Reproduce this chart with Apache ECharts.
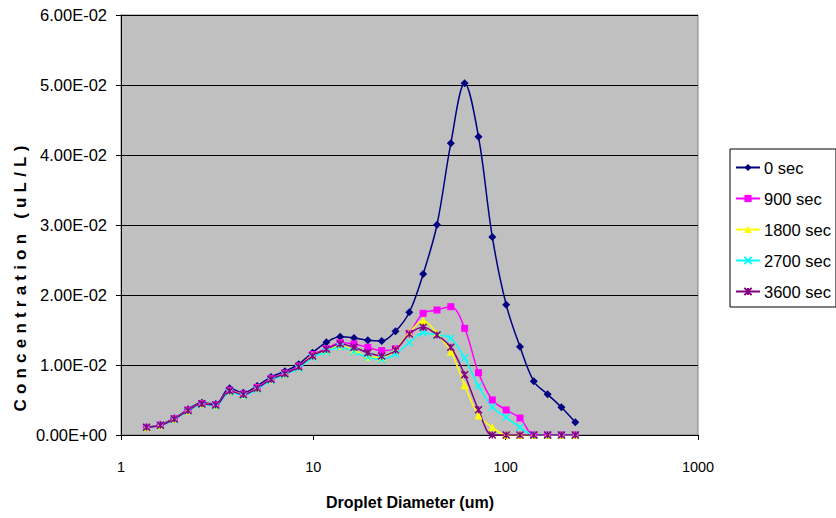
<!DOCTYPE html>
<html>
<head>
<meta charset="utf-8">
<script src="https://cdn.jsdelivr.net/npm/echarts@6/dist/echarts.min.js"></script>
<style>
html,body{margin:0;padding:0;background:#fff;}
#chart{width:836px;height:518px;}
</style>
</head>
<body>
<div id="chart"></div>
<script>
// Droplet diameter bins (um)
const sizes = [1.358,1.602,1.891,2.232,2.633,3.108,3.667,4.327,5.107,6.026,7.111,8.392,9.903,11.69,13.79,16.27,19.20,22.66,26.74,31.56,37.24,43.95,51.86,61.20,72.22,85.22,100.6,118.7,140.1,165.3,195.0,230.2];

const seriesNames = ['0 sec','900 sec','1800 sec','2700 sec','3600 sec'];

const sec0 = [0.00110,0.00147,0.00239,0.00367,0.00461,0.00443,0.00667,0.00603,0.00700,0.00830,0.00910,0.01012,0.01176,0.01324,0.01404,0.01386,0.01353,0.01343,0.01481,0.01753,0.02300,0.03004,0.04167,0.05024,0.04261,0.02829,0.01862,0.01261,0.00767,0.00581,0.00396,0.00181];
const sec900 = [0.00110,0.00140,0.00232,0.00357,0.00450,0.00430,0.00640,0.00585,0.00680,0.00805,0.00885,0.00985,0.01150,0.01233,0.01319,0.01300,0.01253,0.01205,0.01233,0.01453,0.01738,0.01786,0.01833,0.01524,0.00890,0.00500,0.00357,0.00243,0,0,0,0];
const sec1800 = [0.00110,0.00138,0.00228,0.00350,0.00445,0.00425,0.00630,0.00580,0.00670,0.00795,0.00875,0.00975,0.01140,0.01214,0.01271,0.01214,0.01119,0.01110,0.01224,0.01462,0.01633,0.01452,0.01190,0.00710,0.00280,0.00110,0,0,0,0,0,0];
const sec2700 = [0.00110,0.00135,0.00222,0.00342,0.00435,0.00415,0.00615,0.00565,0.00655,0.00780,0.00860,0.00955,0.01110,0.01190,0.01262,0.01190,0.01110,0.01081,0.01157,0.01319,0.01462,0.01429,0.01381,0.01100,0.00700,0.00400,0.00253,0.00110,0,0,0,0];
const sec3600 = [0.00110,0.00138,0.00228,0.00350,0.00445,0.00428,0.00630,0.00578,0.00668,0.00795,0.00875,0.00975,0.01130,0.01224,0.01300,0.01253,0.01176,0.01129,0.01214,0.01443,0.01538,0.01429,0.01253,0.00860,0.00360,0,0,0,0,0,0,0];

const xTicks = [1,10,100,1000];
const yTicks = [0,0.01,0.02,0.03,0.04,0.05,0.06];

const allValues = [sec0,sec900,sec1800,sec2700,sec3600];
const colors = ['#000080','#FF00FF','#FFFF00','#00FFFF','#800080'];
const symbols = ['diamond','rect','triangle','path://M0,0L10,10M10,0L0,10','path://M0,0L10,10M10,0L0,10M5,0L5,10'];
const symbolSizes = [8,7,8,7,7];

function fmtY(v){
  if (Math.abs(v) < 1e-12) return '0.00E+00';
  const parts = v.toExponential(2).split('e');
  const e = parseInt(parts[1],10);
  return parts[0] + 'E' + (e<0?'-':'+') + String(Math.abs(e)).padStart(2,'0');
}

const series = allValues.map((vals,k)=>({
  name: seriesNames[k],
  type: 'line',
  data: sizes.map((x,i)=>[x, vals[i]]),
  smooth: 0.35,
  symbol: symbols[k],
  symbolSize: symbolSizes[k],
  showSymbol: true,
  lineStyle: {color: colors[k], width: 1.5},
  itemStyle: {color: colors[k], borderColor: colors[k], borderWidth: k>=3 ? 1.5 : 0},
  emphasis: {disabled: true},
  animation: false
}));

const chart = echarts.init(document.getElementById('chart'), null, {renderer:'svg'});
chart.setOption({
  animation: false,
  backgroundColor: '#fff',
  textStyle: {fontFamily: '"Liberation Sans", Arial, sans-serif'},
  grid: {left:121, right:138, top:15, bottom:83, show:true, backgroundColor:'#C0C0C0', borderColor:'#808080', borderWidth:1},
  xAxis: {
    type: 'log', logBase: 10, min: xTicks[0], max: xTicks[xTicks.length-1],
    axisLine: {show:true, lineStyle:{color:'#000', width:1}},
    axisTick: {show:true, inside:false, length:5, lineStyle:{color:'#000'}},
    minorTick: {show:false},
    splitLine: {show:false},
    axisLabel: {color:'#000', fontSize:14.5, margin:24, fontFamily:'"Liberation Sans", Arial, sans-serif',
      formatter: v => String(Math.round(v))}
  },
  yAxis: {
    type: 'value', min: yTicks[0], max: yTicks[yTicks.length-1], interval: 0.01,
    axisLine: {show:true, lineStyle:{color:'#000', width:1}},
    axisTick: {show:true, inside:false, length:5, lineStyle:{color:'#000'}},
    splitLine: {show:true, lineStyle:{color:'#000', width:1}},
    axisLabel: {color:'#000', fontSize:16.5, margin:14, fontFamily:'"Liberation Sans", Arial, sans-serif', formatter: fmtY}
  },
  legend: {
    orient: 'vertical', left: 730, top: 149,
    padding: [10,5,7,5],
    backgroundColor: '#fff', borderColor: '#000', borderWidth: 1, borderRadius: 0,
    itemWidth: 24, itemHeight: 9, itemGap: 14,
    textStyle: {color:'#000', fontSize:16.5, lineHeight:16, fontFamily:'"Liberation Sans", Arial, sans-serif', padding:[0,0,0,-1]},
    data: seriesNames
  },
  graphic: [
    {type:'text', x:20, y:276, rotation:Math.PI/2,
      style:{text:'Concentration (uL/L)', font:'bold 17px "Liberation Sans", Arial, sans-serif', fill:'#000', align:'center', verticalAlign:'middle'}},
    {type:'text', x:410, y:502,
      style:{text:'Droplet Diameter (um)', font:'bold 16px "Liberation Sans", Arial, sans-serif', fill:'#000', align:'center', verticalAlign:'middle'}}
  ],
  series: series
});

function spaceTitle(){
  document.querySelectorAll('#chart svg text').forEach(t=>{
    if (t.textContent === 'Concentration (uL/L)') {
      t.setAttribute('letter-spacing','5.2px');
      t.style.letterSpacing = '5.2px';
    }
  });
}
spaceTitle();
setTimeout(spaceTitle, 0);
setTimeout(spaceTitle, 100);
</script>
</body>
</html>
